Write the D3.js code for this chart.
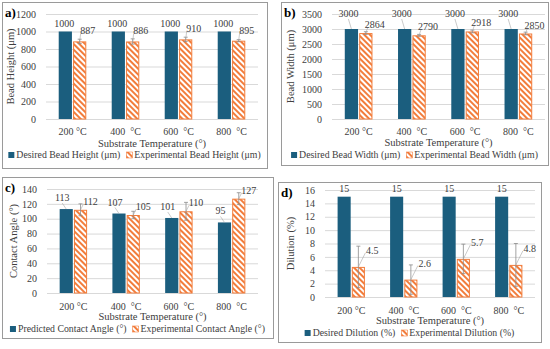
<!DOCTYPE html>
<html>
<head>
<meta charset="utf-8">
<script src="https://cdn.jsdelivr.net/npm/d3@7"></script>
<style>
  body { margin: 0; background: #fff; }
  svg text { font-family: "Liberation Serif", "DejaVu Serif", serif; fill: #404040; }
</style>
</head>
<body>
<svg id="chart" width="550" height="349"></svg>
<script>
// ---------- data ----------
const temps = ["200 °C", "400  °C", "600  °C", "800  °C"];

const heightDesired = [1000, 1000, 1000, 1000];
const heightExp = [887, 886, 910, 895];
const heightErr = [25, 30, 25, 12];

const widthDesired = [3000, 3000, 3000, 3000];
const widthExp = [2864, 2790, 2918, 2850];
const widthErr = [45, 30, 45, 45];

const anglePred = [113, 107, 101, 95];
const angleExp = [112, 105, 110, 127];
const angleErr = [8, 5, 12, 8];

const dilDesired = [15, 15, 15, 15];
const dilExp = [4.5, 2.6, 5.7, 4.8];
const dilErr = [3.1, 2.2, 2.2, 3.2];

// ---------- panels ----------
const blue = "#1b5e7e";
const orange = "#f27d3c";

const svg = d3.select("#chart");

// hatch pattern for experimental bars
const defs = svg.append("defs");
const pat = defs.append("pattern")
  .attr("id", "hatch")
  .attr("patternUnits", "userSpaceOnUse")
  .attr("width", 4).attr("height", 4)
  .attr("patternTransform", "rotate(-45)");
pat.append("rect").attr("width", 4).attr("height", 4).attr("fill", "#fff");
pat.append("rect").attr("width", 2).attr("height", 4).attr("fill", orange);

const panels = [
  { tag: "a)", box: [2, 2, 267, 168], plot: [46, 14, 258, 119], max: 1200, step: 200,
    yTitle: "Bead Height (μm)", yTitleX: 14, a: heightDesired, b: heightExp, err: heightErr,
    names: ["Desired Bead Height (μm)", "Experimental Bead Height (μm)"],
    offA: [-1, -5], offB: [4, -7], tickY: 135, titleY: 147, legY: 158, fmt: d3.format("d") },
  { tag: "b)", box: [281, 2, 548, 165], plot: [332, 14, 545, 119], max: 3500, step: 500,
    yTitle: "Bead Width (μm)", yTitleX: 294, a: widthDesired, b: widthExp, err: widthErr,
    names: ["Desired Bead Width (μm)", "Experimental Bead Width (μm)"],
    offA: [-3, -12], offB: [5, -5], tickY: 135, titleY: 146, legY: 158, fmt: d3.format("d") },
  { tag: "c)", box: [2, 177, 273, 338], plot: [47, 189, 258, 293], max: 140, step: 20,
    yTitle: "Contact Angle (°)", yTitleX: 17, a: anglePred, b: angleExp, err: angleErr,
    names: ["Predicted Contact Angle (°)", "Experimental Contact Angle (°)"],
    offA: [-4, -8], offB: [6, -5], tickY: 310, titleY: 320, legY: 332, fmt: d3.format("d") },
  { tag: "d)", box: [278, 182, 541, 342], plot: [325, 190, 535, 297], max: 16, step: 2,
    yTitle: "Dilution (%)", yTitleX: 294, a: dilDesired, b: dilExp, err: dilErr,
    names: ["Desired Dilution (%)", "Experimental Dilution (%)"],
    offA: [0, -5], offB: [10, -13], tickY: 314, titleY: 324, legY: 336, fmt: d3.format("") }
];

panels.forEach(drawPanel);

function drawPanel(p) {
  const [bx0, by0, bx1, by1] = p.box;
  const [px0, py0, px1, py1] = p.plot;
  const g = svg.append("g");

  g.append("rect")
    .attr("x", bx0 + 0.5).attr("y", by0 + 0.5)
    .attr("width", bx1 - bx0).attr("height", by1 - by0)
    .attr("fill", "#fff").attr("stroke", "#9a9a9a").attr("stroke-width", 1);

  g.append("text")
    .attr("x", bx0 + 3).attr("y", by0 + 15)
    .style("font-size", "13px").style("font-weight", "bold").style("fill", "#000")
    .text(p.tag);

  const y = d3.scaleLinear().domain([0, p.max]).range([py1, py0]);
  const x = d3.scaleBand().domain(temps).range([px0, px1]).padding(0);
  const bw = x.bandwidth();
  const xs = d3.scaleBand().domain([0, 1]).range([bw * 0.24, bw * 0.76]).paddingInner(0.08);

  // gridlines + y labels
  const ticks = d3.range(0, p.max + p.step / 2, p.step);
  const yAxis = d3.axisLeft(y).tickValues(ticks).tickSize(-(px1 - px0)).tickPadding(10).tickFormat(d3.format("d"));
  const ag = g.append("g").attr("transform", `translate(${px0},0)`).call(yAxis);
  ag.select(".domain").remove();
  ag.selectAll(".tick line").attr("stroke", "#d9d9d9");
  ag.selectAll(".tick text").style("font-size", "10px").attr("fill", "#404040");

  // x labels
  const xAxis = d3.axisBottom(x).tickSize(0).tickPadding(0);
  const xg = g.append("g").attr("transform", `translate(0,${p.tickY - 7})`).call(xAxis);
  xg.select(".domain").remove();
  xg.selectAll(".tick text").style("font-size", "10px")
    .attr("fill", "#404040").style("white-space", "pre").attr("xml:space", "preserve");

  const rows = temps.map((t, i) => ({ t, a: p.a[i], b: p.b[i], e: p.err[i] }));

  // desired / predicted bars
  g.selectAll(".barA").data(rows).enter().append("rect")
    .attr("x", d => x(d.t) + xs(0))
    .attr("y", d => y(d.a))
    .attr("width", xs.bandwidth())
    .attr("height", d => y(0) - y(d.a))
    .attr("fill", blue);

  // experimental bars
  g.selectAll(".barB").data(rows).enter().append("rect")
    .attr("x", d => x(d.t) + xs(1) + 0.5)
    .attr("y", d => y(d.b) + 0.5)
    .attr("width", xs.bandwidth() - 1)
    .attr("height", d => y(0) - y(d.b) - 0.5)
    .attr("fill", "url(#hatch)")
    .attr("stroke", orange).attr("stroke-width", 1);

  // error bars
  const eb = g.selectAll(".err").data(rows).enter().append("g")
    .attr("stroke", "#8c8c8c").attr("stroke-width", 0.8);
  const cx = d => x(d.t) + xs(1) + xs.bandwidth() / 2;
  eb.append("line").attr("x1", cx).attr("x2", cx)
    .attr("y1", d => y(d.b - d.e)).attr("y2", d => y(d.b + d.e));
  eb.append("line").attr("x1", d => cx(d) - 2).attr("x2", d => cx(d) + 2)
    .attr("y1", d => y(d.b + d.e)).attr("y2", d => y(d.b + d.e));
  eb.append("line").attr("x1", d => cx(d) - 2).attr("x2", d => cx(d) + 2)
    .attr("y1", d => y(d.b - d.e)).attr("y2", d => y(d.b - d.e));

  // data labels with leader lines
  const labelStyle = s => s.style("font-size", "10px").attr("text-anchor", "middle").attr("fill", "#404040");
  const cxA = d => x(d.t) + xs(0) + xs.bandwidth() / 2;
  rows.forEach(d => {
    const ax = cxA(d), ay = y(d.a);
    if (Math.abs(p.offA[0]) > 2) {
      g.append("line").attr("x1", ax).attr("y1", ay)
        .attr("x2", ax + p.offA[0]).attr("y2", ay + p.offA[1] + 2)
        .attr("stroke", "#a6a6a6").attr("stroke-width", 0.6);
    }
    g.append("text").attr("x", ax + p.offA[0]).attr("y", ay + p.offA[1])
      .call(labelStyle).text(p.fmt(d.a));

    const ox = cx(d), oy = y(d.b);
    g.append("line").attr("x1", ox).attr("y1", oy)
      .attr("x2", ox + p.offB[0] - 3).attr("y2", oy + p.offB[1] - 1)
      .attr("stroke", "#a6a6a6").attr("stroke-width", 0.6);
    g.append("text").attr("x", ox + p.offB[0] + 4).attr("y", oy + p.offB[1])
      .call(labelStyle).text(p.fmt(d.b));
  });

  // x axis title
  g.append("text")
    .attr("x", (px0 + px1) / 2).attr("y", p.titleY)
    .attr("text-anchor", "middle").style("font-size", "10.5px")
    .text("Substrate Temperature (°)");

  // y axis title
  g.append("text")
    .attr("transform", `translate(${p.yTitleX},${(py0 + py1) / 2}) rotate(-90)`)
    .attr("text-anchor", "middle").style("font-size", "10.5px")
    .text(p.yTitle);

  // legend
  const leg = g.append("g");
  const items = leg.selectAll("g").data(p.names).enter().append("g");
  items.append("rect")
    .attr("width", 6).attr("height", 6).attr("y", -6)
    .attr("fill", (d, i) => i === 0 ? blue : "url(#hatch)")
    .attr("stroke", (d, i) => i === 0 ? "none" : orange).attr("stroke-width", 0.6);
  items.append("text").attr("x", 8).attr("y", 0).style("font-size", "9.8px").text(d => d);
  let off = 0;
  items.each(function () {
    const w = this.getBBox().width;
    d3.select(this).attr("transform", `translate(${off},0)`);
    off += w + 6;
  });
  const legW = off - 6;
  leg.attr("transform", `translate(${(bx0 + bx1) / 2 - legW / 2},${p.legY})`);
}
</script>
</body>
</html>
